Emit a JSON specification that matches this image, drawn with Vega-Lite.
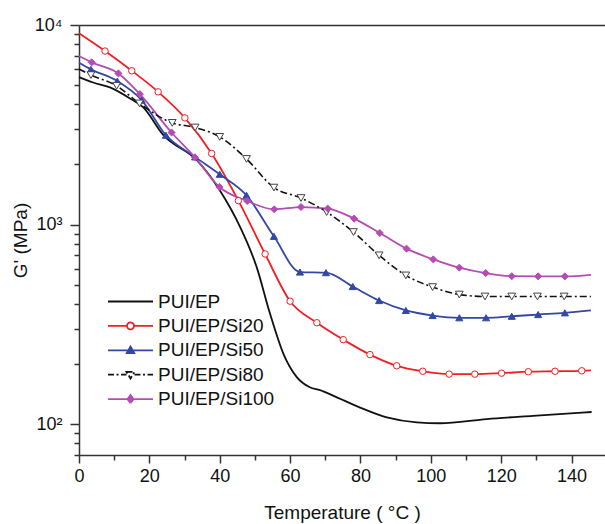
{
  "$schema": "https://vega.github.io/schema/vega-lite/v6.json",
  "width": 526,
  "height": 430,
  "autosize": {"type": "none"},
  "padding": {"left": 79, "top": 25, "right": 0, "bottom": 69},
  "background": "white",
  "config": {
    "view": {"stroke": null},
    "font": "Liberation Sans",
    "axis": {"domainColor": "#333333", "domainWidth": 1.5, "tickColor": "#333333", "tickWidth": 1.5, "labelColor": "#111111", "titleColor": "#111111", "grid": false, "labelFont": "Liberation Sans", "titleFont": "Liberation Sans", "titleFontWeight": "normal"},
    "axisY": {"values": [70, 80, 90, 100, 200, 300, 400, 500, 600, 700, 800, 900, 1000, 2000, 3000, 4000, 5000, 6000, 7000, 8000, 9000, 10000],
            "labelExpr": "datum.value == 100 ? '10²' : datum.value == 1000 ? '10³' : datum.value == 10000 ? '10⁴' : ''",
            "tickSize": {"condition": {"test": "datum.value == 100 || datum.value == 1000 || datum.value == 10000", "value": 9}, "value": 5},
            "labelFontSize": 18, "labelPadding": 8, "labelOverlap": false, "labelFlush": false,
            "titleFontSize": 19, "titlePadding": 4}
  },
  "data": {"values": [
    {"series": "PUI/EP", "T": 0, "G": 5483},
    {"series": "PUI/EP", "T": 4, "G": 5150},
    {"series": "PUI/EP", "T": 8.8, "G": 4866},
    {"series": "PUI/EP", "T": 14.5, "G": 4285},
    {"series": "PUI/EP", "T": 18.2, "G": 3875},
    {"series": "PUI/EP", "T": 24, "G": 2804},
    {"series": "PUI/EP", "T": 33.5, "G": 2101},
    {"series": "PUI/EP", "T": 40, "G": 1485},
    {"series": "PUI/EP", "T": 45.8, "G": 971},
    {"series": "PUI/EP", "T": 50.5, "G": 612},
    {"series": "PUI/EP", "T": 54.3, "G": 357},
    {"series": "PUI/EP", "T": 58.1, "G": 225},
    {"series": "PUI/EP", "T": 61.9, "G": 172},
    {"series": "PUI/EP", "T": 65.6, "G": 153},
    {"series": "PUI/EP", "T": 68.5, "G": 148},
    {"series": "PUI/EP", "T": 72.2, "G": 139},
    {"series": "PUI/EP", "T": 79.9, "G": 121},
    {"series": "PUI/EP", "T": 87.5, "G": 108},
    {"series": "PUI/EP", "T": 96, "G": 102},
    {"series": "PUI/EP", "T": 102.6, "G": 101},
    {"series": "PUI/EP", "T": 115.9, "G": 106},
    {"series": "PUI/EP", "T": 129, "G": 110},
    {"series": "PUI/EP", "T": 145.7, "G": 115},

    {"series": "PUI/EP/Si20", "T": 0, "G": 9085},
    {"series": "PUI/EP/Si20", "T": 7.4, "G": 7404},
    {"series": "PUI/EP/Si20", "T": 15, "G": 5897},
    {"series": "PUI/EP/Si20", "T": 22.5, "G": 4624},
    {"series": "PUI/EP/Si20", "T": 30.1, "G": 3424},
    {"series": "PUI/EP/Si20", "T": 37.7, "G": 2270},
    {"series": "PUI/EP/Si20", "T": 45.3, "G": 1318},
    {"series": "PUI/EP/Si20", "T": 52.9, "G": 712},
    {"series": "PUI/EP/Si20", "T": 60, "G": 413},
    {"series": "PUI/EP/Si20", "T": 67.6, "G": 322},
    {"series": "PUI/EP/Si20", "T": 75.1, "G": 265},
    {"series": "PUI/EP/Si20", "T": 82.7, "G": 223},
    {"series": "PUI/EP/Si20", "T": 90.3, "G": 196},
    {"series": "PUI/EP/Si20", "T": 97.7, "G": 184},
    {"series": "PUI/EP/Si20", "T": 105.2, "G": 178},
    {"series": "PUI/EP/Si20", "T": 112.5, "G": 178},
    {"series": "PUI/EP/Si20", "T": 120.1, "G": 180},
    {"series": "PUI/EP/Si20", "T": 127.7, "G": 183},
    {"series": "PUI/EP/Si20", "T": 135.3, "G": 184},
    {"series": "PUI/EP/Si20", "T": 142.9, "G": 185},
    {"series": "PUI/EP/Si20", "T": 145.5, "G": 186},

    {"series": "PUI/EP/Si50", "T": 0, "G": 6466},
    {"series": "PUI/EP/Si50", "T": 3.4, "G": 5993},
    {"series": "PUI/EP/Si50", "T": 10.9, "G": 5234},
    {"series": "PUI/EP/Si50", "T": 17.8, "G": 4203},
    {"series": "PUI/EP/Si50", "T": 24.7, "G": 2804},
    {"series": "PUI/EP/Si50", "T": 33, "G": 2183},
    {"series": "PUI/EP/Si50", "T": 40, "G": 1786},
    {"series": "PUI/EP/Si50", "T": 47.6, "G": 1402},
    {"series": "PUI/EP/Si50", "T": 55.4, "G": 873},
    {"series": "PUI/EP/Si50", "T": 62.8, "G": 578},
    {"series": "PUI/EP/Si50", "T": 70.2, "G": 574},
    {"series": "PUI/EP/Si50", "T": 77.8, "G": 489},
    {"series": "PUI/EP/Si50", "T": 85.3, "G": 416},
    {"series": "PUI/EP/Si50", "T": 92.9, "G": 371},
    {"series": "PUI/EP/Si50", "T": 100.5, "G": 350},
    {"series": "PUI/EP/Si50", "T": 108.1, "G": 341},
    {"series": "PUI/EP/Si50", "T": 115.7, "G": 341},
    {"series": "PUI/EP/Si50", "T": 123, "G": 347},
    {"series": "PUI/EP/Si50", "T": 130.5, "G": 354},
    {"series": "PUI/EP/Si50", "T": 138.1, "G": 361},
    {"series": "PUI/EP/Si50", "T": 145.5, "G": 371},

    {"series": "PUI/EP/Si80", "T": 0, "G": 6013},
    {"series": "PUI/EP/Si80", "T": 3.4, "G": 5610},
    {"series": "PUI/EP/Si80", "T": 10.7, "G": 4959},
    {"series": "PUI/EP/Si80", "T": 17.2, "G": 4045},
    {"series": "PUI/EP/Si80", "T": 26.5, "G": 3232},
    {"series": "PUI/EP/Si80", "T": 33, "G": 3065},
    {"series": "PUI/EP/Si80", "T": 40, "G": 2750},
    {"series": "PUI/EP/Si80", "T": 47.6, "G": 2132},
    {"series": "PUI/EP/Si80", "T": 55.4, "G": 1532},
    {"series": "PUI/EP/Si80", "T": 63.1, "G": 1358},
    {"series": "PUI/EP/Si80", "T": 70.4, "G": 1155},
    {"series": "PUI/EP/Si80", "T": 78, "G": 917},
    {"series": "PUI/EP/Si80", "T": 85.3, "G": 701},
    {"series": "PUI/EP/Si80", "T": 92.9, "G": 556},
    {"series": "PUI/EP/Si80", "T": 100.5, "G": 486},
    {"series": "PUI/EP/Si80", "T": 108.1, "G": 446},
    {"series": "PUI/EP/Si80", "T": 115.4, "G": 436},
    {"series": "PUI/EP/Si80", "T": 123, "G": 436},
    {"series": "PUI/EP/Si80", "T": 130.3, "G": 436},
    {"series": "PUI/EP/Si80", "T": 137.9, "G": 436},
    {"series": "PUI/EP/Si80", "T": 145.5, "G": 436},

    {"series": "PUI/EP/Si100", "T": 0, "G": 6989},
    {"series": "PUI/EP/Si100", "T": 3.6, "G": 6497},
    {"series": "PUI/EP/Si100", "T": 11.2, "G": 5721},
    {"series": "PUI/EP/Si100", "T": 17.3, "G": 4504},
    {"series": "PUI/EP/Si100", "T": 26.3, "G": 2893},
    {"series": "PUI/EP/Si100", "T": 33, "G": 2167},
    {"series": "PUI/EP/Si100", "T": 39.9, "G": 1543},
    {"series": "PUI/EP/Si100", "T": 47.8, "G": 1312},
    {"series": "PUI/EP/Si100", "T": 55.5, "G": 1192},
    {"series": "PUI/EP/Si100", "T": 63.1, "G": 1224},
    {"series": "PUI/EP/Si100", "T": 70.7, "G": 1202},
    {"series": "PUI/EP/Si100", "T": 78.2, "G": 1071},
    {"series": "PUI/EP/Si100", "T": 85.5, "G": 907},
    {"series": "PUI/EP/Si100", "T": 93.1, "G": 757},
    {"series": "PUI/EP/Si100", "T": 100.7, "G": 669},
    {"series": "PUI/EP/Si100", "T": 108.1, "G": 608},
    {"series": "PUI/EP/Si100", "T": 115.6, "G": 571},
    {"series": "PUI/EP/Si100", "T": 123, "G": 551},
    {"series": "PUI/EP/Si100", "T": 130.5, "G": 550},
    {"series": "PUI/EP/Si100", "T": 138.1, "G": 550},
    {"series": "PUI/EP/Si100", "T": 145.5, "G": 560}
  ]},
  "layer": [
    {
      "transform": [{"filter": "datum.series != 'PUI/EP/Si80'"}],
      "mark": {"type": "line", "interpolate": "monotone", "strokeWidth": 1.8},
      "encoding": {
        "x": {"field": "T", "type": "quantitative", "scale": {"domain": [0, 149.5], "nice": false, "zero": false},
          "axis": {"orient": "bottom", "values": [0, 10, 20, 30, 40, 50, 60, 70, 80, 90, 100, 110, 120, 130, 140],
            "labelExpr": "datum.value % 20 == 0 ? datum.label : ''",
            "tickSize": {"condition": {"test": "datum.value % 20 == 0", "value": 8}, "value": 5},
            "labelFontSize": 18, "labelPadding": 4, "labelFlush": false, "labelOverlap": false,
            "title": "Temperature ( °C )", "titleFontSize": 19, "titlePadding": 18}},
        "y": {"field": "G", "type": "quantitative", "scale": {"type": "log", "domain": [70, 10000], "nice": false}, "title": "G' (MPa)"},
        "color": {"field": "series", "type": "nominal",
          "scale": {"domain": ["PUI/EP", "PUI/EP/Si20", "PUI/EP/Si50", "PUI/EP/Si80", "PUI/EP/Si100"],
                    "range": ["#111111", "#ee2025", "#3348a5", "#111111", "#b54cb4"]},
          "legend": {"title": null, "orient": "none", "legendX": 42, "legendY": 267,
            "labelFontSize": 19, "labelFont": "Liberation Sans", "labelColor": "#111111",
            "symbolSize": 100, "symbolStrokeWidth": 1.8, "labelOffset": 18, "rowPadding": 4.4, "padding": 0,
            "encode": {"symbols": {"update": {
              "shape": {"signal": "datum.value == 'PUI/EP' ? 'M-4.5,0H4.5' : datum.value == 'PUI/EP/Si20' ? 'M-4.5,0H-0.7M0.7,0H4.5M0.7,0A0.7,0.7,0,1,1,-0.7,0A0.7,0.7,0,1,1,0.7,0' : datum.value == 'PUI/EP/Si50' ? 'M-4.5,0H4.5M0,-0.75L0.75,0.55L-0.75,0.55Z' : datum.value == 'PUI/EP/Si80' ? 'M-4.5,0H-0.8M0.8,0H4.5M-0.8,-0.55L0.8,-0.55L0,0.75Z' : 'M-4.5,0H4.5M0,-0.8L0.6,0L0,0.8L-0.6,0Z'"},
              "fill": {"signal": "datum.value == 'PUI/EP/Si50' ? '#3348a5' : datum.value == 'PUI/EP/Si100' ? '#b54cb4' : datum.value == 'PUI/EP' ? 'transparent' : 'white'"},
              "strokeDash": {"signal": "datum.value == 'PUI/EP/Si80' ? [6, 2.5, 2, 2.5] : [1, 0]"}
            }}}}}
      }
    },
    {
      "transform": [{"filter": "datum.series == 'PUI/EP/Si80'"}],
      "mark": {"type": "line", "interpolate": "monotone", "strokeWidth": 1.6, "strokeDash": [7, 3, 2, 3], "color": "#111111"},
      "encoding": {
        "x": {"field": "T", "type": "quantitative", "scale": {"domain": [0, 149.5], "nice": false, "zero": false},
          "axis": {"orient": "top", "labels": false, "ticks": false, "title": null, "domain": true, "values": []}},
        "y": {"field": "G", "type": "quantitative", "scale": {"type": "log", "domain": [70, 10000], "nice": false}, "title": "G' (MPa)"}
      }
    },
    {
      "transform": [{"filter": "datum.series == 'PUI/EP/Si20' && datum.T > 0.5 && datum.T < 145"}],
      "mark": {"type": "point", "shape": "circle", "size": 42, "filled": true, "fill": "white", "stroke": "#ee2025", "strokeWidth": 1, "opacity": 1},
      "encoding": {
        "x": {"field": "T", "type": "quantitative", "scale": {"domain": [0, 149.5], "nice": false, "zero": false}, "axis": null},
        "y": {"field": "G", "type": "quantitative", "scale": {"type": "log", "domain": [70, 10000], "nice": false}, "title": "G' (MPa)"}
      }
    },
    {
      "transform": [{"filter": "datum.series == 'PUI/EP/Si50' && datum.T > 0.5 && datum.T < 145"}],
      "mark": {"type": "point", "shape": "triangle-up", "size": 50, "filled": true, "fill": "#3348a5", "stroke": "#3348a5", "strokeWidth": 1, "opacity": 1},
      "encoding": {
        "x": {"field": "T", "type": "quantitative", "scale": {"domain": [0, 149.5], "nice": false, "zero": false}, "axis": null},
        "y": {"field": "G", "type": "quantitative", "scale": {"type": "log", "domain": [70, 10000], "nice": false}, "title": "G' (MPa)"}
      }
    },
    {
      "transform": [{"filter": "datum.series == 'PUI/EP/Si80' && datum.T > 0.5 && datum.T < 145"}],
      "mark": {"type": "point", "shape": "triangle-down", "size": 60, "filled": true, "fill": "white", "stroke": "#444444", "strokeWidth": 1, "opacity": 1},
      "encoding": {
        "x": {"field": "T", "type": "quantitative", "scale": {"domain": [0, 149.5], "nice": false, "zero": false}, "axis": null},
        "y": {"field": "G", "type": "quantitative", "scale": {"type": "log", "domain": [70, 10000], "nice": false}, "title": "G' (MPa)"}
      }
    },
    {
      "transform": [{"filter": "datum.series == 'PUI/EP/Si100' && datum.T > 0.5 && datum.T < 145"}],
      "mark": {"type": "point", "shape": "diamond", "size": 50, "filled": true, "fill": "#b54cb4", "stroke": "#b54cb4", "strokeWidth": 1, "opacity": 1},
      "encoding": {
        "x": {"field": "T", "type": "quantitative", "scale": {"domain": [0, 149.5], "nice": false, "zero": false}, "axis": null},
        "y": {"field": "G", "type": "quantitative", "scale": {"type": "log", "domain": [70, 10000], "nice": false}, "title": "G' (MPa)"}
      }
    }
  ],
  "resolve": {"axis": {"x": "independent"}}
}
